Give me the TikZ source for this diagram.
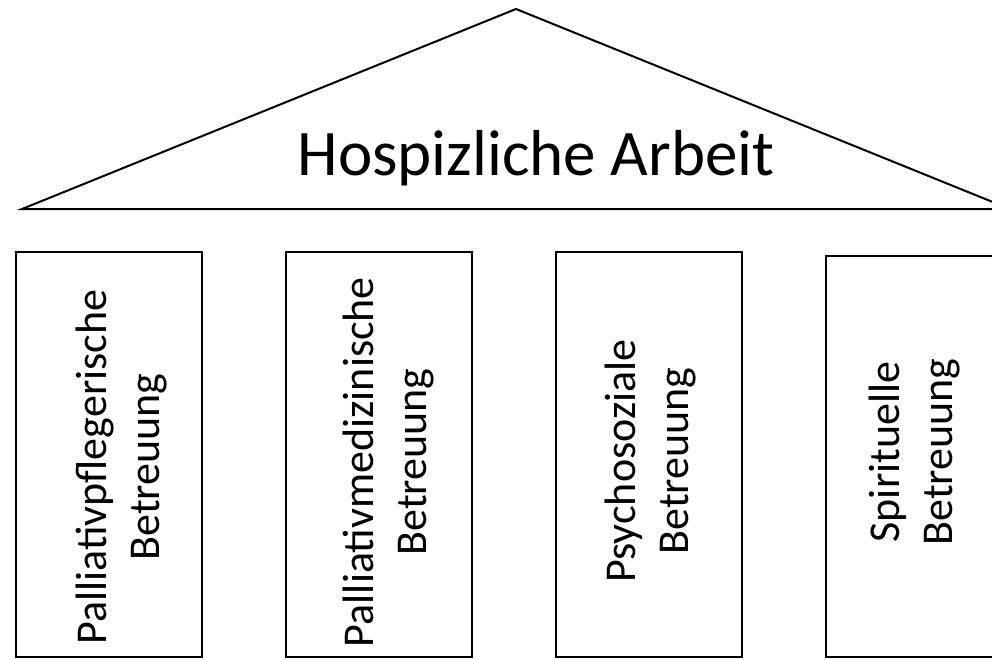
\documentclass[tikz,border=0pt]{standalone}
\usepackage{fontspec}
\setmainfont{Carlito}
\usetikzlibrary{positioning}
\begin{document}
\begin{tikzpicture}[x=1pt, y=-1pt, line width=2pt,
pillar/.style={draw, rectangle, minimum width=186pt, minimum height=405pt, inner sep=0pt},
pillartext/.style={rotate=90, align=center, inner sep=0pt, font=\fontsize{44}{53}\selectfont},
title/.style={anchor=base, inner sep=0pt, font=\fontsize{65}{78}\selectfont}]
\useasboundingbox (0,0) rectangle (992,659);
\clip (0,0) rectangle (992,659);
% roof
\coordinate (rl) at (22,209);
\coordinate (rt) at (516,9);
\coordinate (rr) at (1010,209);
\draw[line join=miter] (rl) -- (rt) -- (rr) -- cycle;
\node[title] (roof) at (536,175) {Hospizliche Arbeit};
% pillars
\node[pillar] (p1) at (109,454.5) {};
\node[pillar, right=82pt of p1] (p2) {};
\node[pillar, right=82pt of p2] (p3) {};
\node[pillar, right=82pt of p3, minimum height=401pt, yshift=-2pt] (p4) {};
\node[pillartext] (t1) at (122,467) {Palliativpflegerische\\Betreuung};
\node[pillartext] (t2) at (388,462) {Palliativmedizinische\\Betreuung};
\node[pillartext] (t3) at (650,461) {Psychosoziale\\Betreuung};
\node[pillartext] (t4) at (914,452) {Spirituelle\\Betreuung};
\end{tikzpicture}
\end{document}
